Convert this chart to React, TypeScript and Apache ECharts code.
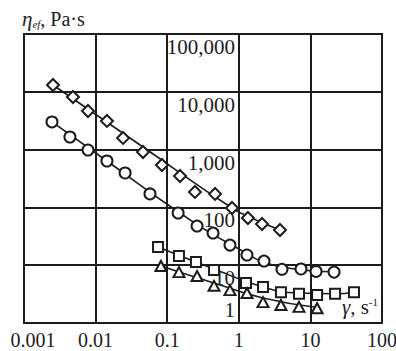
import React, { useEffect, useRef } from "react";
import * as echarts from "echarts";

const xTickLabels = ["0.001", "0.01", "0.1", "1", "10", "100"];

const diamondX = [0.00254, 0.00483, 0.00783, 0.0144, 0.0242, 0.0459, 0.0845, 0.151, 0.244, 0.466, 0.804, 1.34, 2.11, 3.76];
const diamondY = [13100, 8130, 4650, 3130, 1590, 908, 542, 349, 185, 171, 97.7, 65.6, 51.6, 40.6];
const diamondFitX = [0.00254, 0.0459, 0.804, 1.74, 3.76];
const diamondFitY = [13100, 1109, 97.7, 60.5, 40.6];

const circleX = [0.00246, 0.00438, 0.00783, 0.0144, 0.0258, 0.0575, 0.142, 0.261, 0.437, 0.753, 1.3, 2.25, 4.01, 7.39, 12.0, 21.4];
const circleY = [3006, 1652, 984, 635, 394, 171, 80, 47.6, 36, 22.3, 15, 11.8, 8.5, 8.6, 7.8, 7.6];
const circleFitX = [0.00246, 0.0144, 0.142, 0.753, 4.01, 21.4];
const circleFitY = [3006, 635, 84, 23.3, 9.3, 7.7];

const squareX = [0.0745, 0.146, 0.252, 0.451, 1.26, 2.18, 3.88, 6.93, 12.4, 22.1, 40.6];
const squareY = [20.7, 14.4, 11.4, 8.3, 4.9, 4.2, 3.4, 3.2, 3.05, 3.2, 3.4];
const squareFitX = [0.0745, 0.451, 2.18, 6.93, 22.1, 40.6];
const squareFitY = [20.7, 8.6, 4.2, 3.3, 3.2, 3.4];

const triangleX = [0.0818, 0.146, 0.261, 0.451, 0.753, 1.3, 2.18, 3.88, 6.93, 12.4];
const triangleY = [9.7, 7.6, 6.5, 4.4, 3.7, 3.3, 2.3, 2.05, 1.9, 1.8];
const triangleFitX = [0.0818, 0.451, 2.18, 12.4];
const triangleFitY = [9.7, 4.9, 2.7, 1.85];

const INK = "#1c1c1c";
const FONT = "Liberation Serif";

const zip = (xs: number[], ys: number[]) => xs.map((x, i) => [x, ys[i]]);

function fmtX(v: number): string {
  const e = Math.round(Math.log10(v));
  const idx = e + 3;
  return xTickLabels[idx] ?? String(v);
}

export default function App() {
  const ref = useRef<HTMLDivElement>(null);
  useEffect(() => {
    if (!ref.current) return;
    const chart = echarts.init(ref.current, undefined, { renderer: "svg" });
    const scatter = (name: string, data: number[][], symbol: string, size: any) => ({
      name,
      type: "scatter",
      data,
      symbol,
      symbolSize: size,
      z: 5,
      itemStyle: { color: "#fff", borderColor: INK, borderWidth: 2, opacity: 1 },
    });
    const fit = (name: string, data: number[][]) => ({
      name,
      type: "line",
      data,
      smooth: 0.5,
      showSymbol: false,
      symbol: "none",
      z: 3,
      lineStyle: { color: INK, width: 1.6 },
    });
    chart.setOption({
      animation: false,
      backgroundColor: "#fff",
      textStyle: { fontFamily: FONT },
      grid: {
        left: 24,
        top: 34,
        right: 14,
        bottom: 28,
        show: true,
        borderColor: INK,
        borderWidth: 2,
        containLabel: false,
        outerBoundsMode: "none",
      },
      xAxis: {
        type: "log",
        logBase: 10,
        min: 0.001,
        max: 100,
        axisLine: { show: false },
        axisTick: { show: false },
        splitLine: { show: true, lineStyle: { color: INK, width: 2 } },
        axisLabel: {
          margin: 7,
          color: INK,
          fontFamily: FONT,
          fontSize: 20,
          lineHeight: 20,
          formatter: (v: number) => {
            const s = fmtX(v);
            return s === "0.001" ? "{p|" + s + "}" : s;
          },
          rich: { p: { fontFamily: FONT, fontSize: 20, lineHeight: 20, color: INK, padding: [0, 0, 0, 18] } },
        },
      },
      yAxis: {
        type: "log",
        logBase: 10,
        min: 1,
        max: 100000,
        position: "left",
        offset: -214,
        axisLine: { show: false },
        axisTick: { show: false },
        splitLine: { show: true, lineStyle: { color: INK, width: 2 } },
        axisLabel: {
          margin: 3,
          color: INK,
          fontFamily: FONT,
          fontSize: 21,
          lineHeight: 26,
          verticalAlign: "middle",
          formatter: (v: number) => {
            const s = Math.round(v).toLocaleString("en-US");
            return Math.round(v) === 1 ? s + "\n " : " \n" + s;
          },
        },
      },
      graphic: [
        {
          type: "text",
          left: 22,
          top: 8,
          style: {
            text: "{e|η}{s|ef}{n|, Pa·s}",
            rich: {
              e: { fontFamily: FONT, fontSize: 21, fontStyle: "italic", fill: INK, verticalAlign: "bottom" },
              s: { fontFamily: FONT, fontSize: 11, fontStyle: "italic", fill: INK, verticalAlign: "bottom" },
              n: { fontFamily: FONT, fontSize: 20, fill: INK, verticalAlign: "bottom" },
            },
          },
        },
        {
          type: "text",
          right: 18,
          top: 296,
          z: 10,
          style: {
            text: "{g|γ}{n|, s}{u|-1}",
            rich: {
              g: { fontFamily: FONT, fontSize: 21, fontStyle: "italic", fill: INK, verticalAlign: "bottom" },
              n: { fontFamily: FONT, fontSize: 21, fill: INK, verticalAlign: "bottom" },
              u: { fontFamily: FONT, fontSize: 11, fill: INK, verticalAlign: "top" },
            },
          },
        },
      ],
      series: [
        fit("diamondFit", zip(diamondFitX, diamondFitY)),
        fit("circleFit", zip(circleFitX, circleFitY)),
        fit("squareFit", zip(squareFitX, squareFitY)),
        fit("triangleFit", zip(triangleFitX, triangleFitY)),
        scatter("diamond", zip(diamondX, diamondY), "diamond", 12),
        scatter("circle", zip(circleX, circleY), "circle", 11),
        scatter("square", zip(squareX, squareY), "rect", 10),
        scatter("triangle", zip(triangleX, triangleY), "triangle", [11, 10]),
      ],
    });
    return () => chart.dispose();
  }, []);
  return (
    <div
      ref={ref}
      style={{ position: "fixed", left: 0, top: 0, width: 396, height: 351, background: "#fff" }}
    />
  );
}
